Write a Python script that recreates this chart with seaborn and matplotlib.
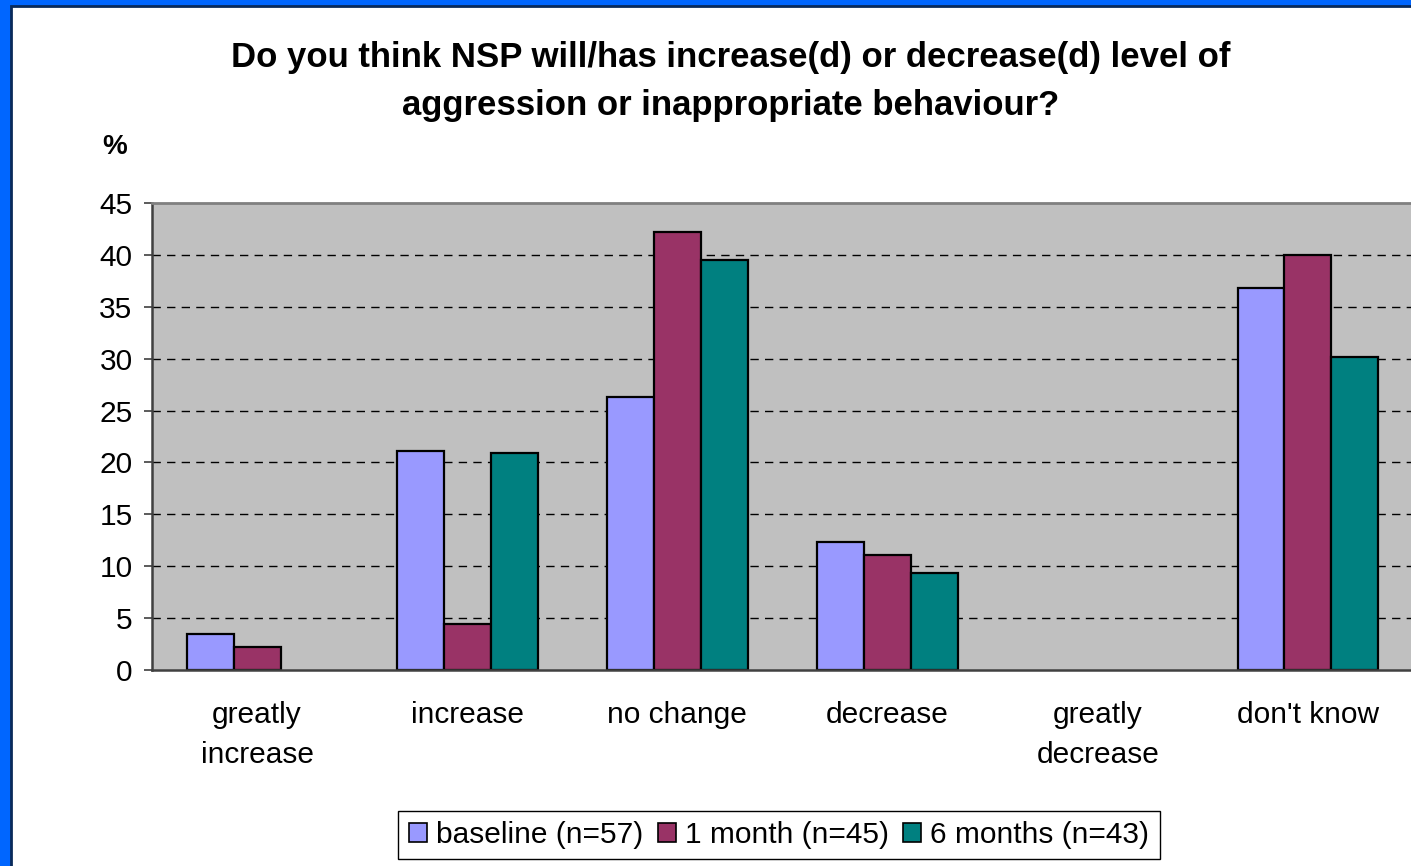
import pandas as pd
import numpy as np
import matplotlib.pyplot as plt
import seaborn as sns
from matplotlib.patches import Patch, Rectangle

categories = ["greatly\nincrease", "increase", "no change", "decrease", "greatly\ndecrease", "don't know"]
groups = ["baseline (n=57)", "1 month (n=45)", "6 months (n=43)"]
baseline = [3.5, 21.1, 26.3, 12.3, 0, 36.8]
one_month = [2.2, 4.4, 42.2, 11.1, 0, 40.0]
six_months = [0, 20.9, 39.5, 9.3, 0, 30.2]
colors = ["#9999FF", "#993366", "#008080"]

rows = []
for grp, vals in zip(groups, [baseline, one_month, six_months]):
    for cat, v in zip(categories, vals):
        rows.append({"category": cat, "group": grp, "pct": v})
data = pd.DataFrame(rows)

sns.set_style("white")
plt.rcParams['font.family'] = ['Liberation Sans', 'DejaVu Sans']
plt.rcParams['text.color'] = 'black'
plt.rcParams['xtick.color'] = 'black'
plt.rcParams['ytick.color'] = 'black'

fig = plt.figure(figsize=(14.11, 8.66), dpi=100)
fig.patch.set_facecolor("#0066FF")
W, H = 1411, 866
# white panel inside the blue frame
fig.patches.append(Rectangle((11 / W, -0.1), 1.2, 1.1 - 6 / H, transform=fig.transFigure,
                             facecolor="white", edgecolor="#0a2a5a", linewidth=2, zorder=-5))

ax = fig.add_axes([152 / W, 1 - 670 / H, (1413 - 152) / W, (670 - 203) / H])
ax.set_zorder(2)
ax.set_facecolor("#C0C0C0")

sns.barplot(data=data, x="category", y="pct", hue="group", order=categories,
            hue_order=groups, palette=colors, saturation=1, width=0.67,
            edgecolor="black", linewidth=1.6, legend=False, ax=ax)

# empty bars should not leave an outline on the axis
for bar in ax.patches:
    if bar.get_height() == 0:
        bar.set_linewidth(0)

ax.set_xlim(-0.5, 5.5)
ax.set_ylim(0, 45)
ax.set_yticks(np.arange(0, 50, 5))
ax.set_xlabel("")
ax.set_ylabel("")

for y in range(5, 45, 5):
    ax.axhline(y, color="black", linewidth=1, linestyle=(0, (6, 4.5)), zorder=0.5)

ax.set_xticks(np.arange(-0.5, 6, 1), minor=True)
ax.tick_params(axis="x", which="minor", length=6, width=1.2, color="#404040", direction="out")
ax.tick_params(axis="x", which="major", length=0, pad=22, labelsize=21.5)
ax.tick_params(axis="y", length=6, width=1.2, color="#404040", pad=8, labelsize=21.5, left=True)
for lab in ax.get_xticklabels():
    lab.set_linespacing(1.55)

for side in ["left", "bottom"]:
    ax.spines[side].set_color("#404040")
    ax.spines[side].set_linewidth(1.8)
ax.spines["top"].set_color("#808080")
ax.spines["top"].set_linewidth(2)
ax.spines["right"].set_visible(False)

fig.text(0.518, 1 - 58 / H, "Do you think NSP will/has increase(d) or decrease(d) level of",
         ha="center", va="center", fontsize=25, fontweight="bold")
fig.text(0.518, 1 - 105 / H, "aggression or inappropriate behaviour?",
         ha="center", va="center", fontsize=25, fontweight="bold")
fig.text(115 / W, 1 - 147 / H, "%", ha="center", va="center", fontsize=20, fontweight="bold")

handles = [Patch(facecolor=c, edgecolor="black", linewidth=1.2) for c in colors]
leg = fig.legend(handles, groups, loc="center", bbox_to_anchor=(779 / W, 1 - 835 / H),
                 ncol=3, fontsize=21.5, frameon=True, fancybox=False, framealpha=1,
                 edgecolor="black", handlelength=0.6, handleheight=0.6,
                 handletextpad=0.3, columnspacing=0.5, borderpad=0.35)
leg.get_frame().set_linewidth(1)

fig.savefig("out.png", dpi=100, facecolor=fig.get_facecolor())
